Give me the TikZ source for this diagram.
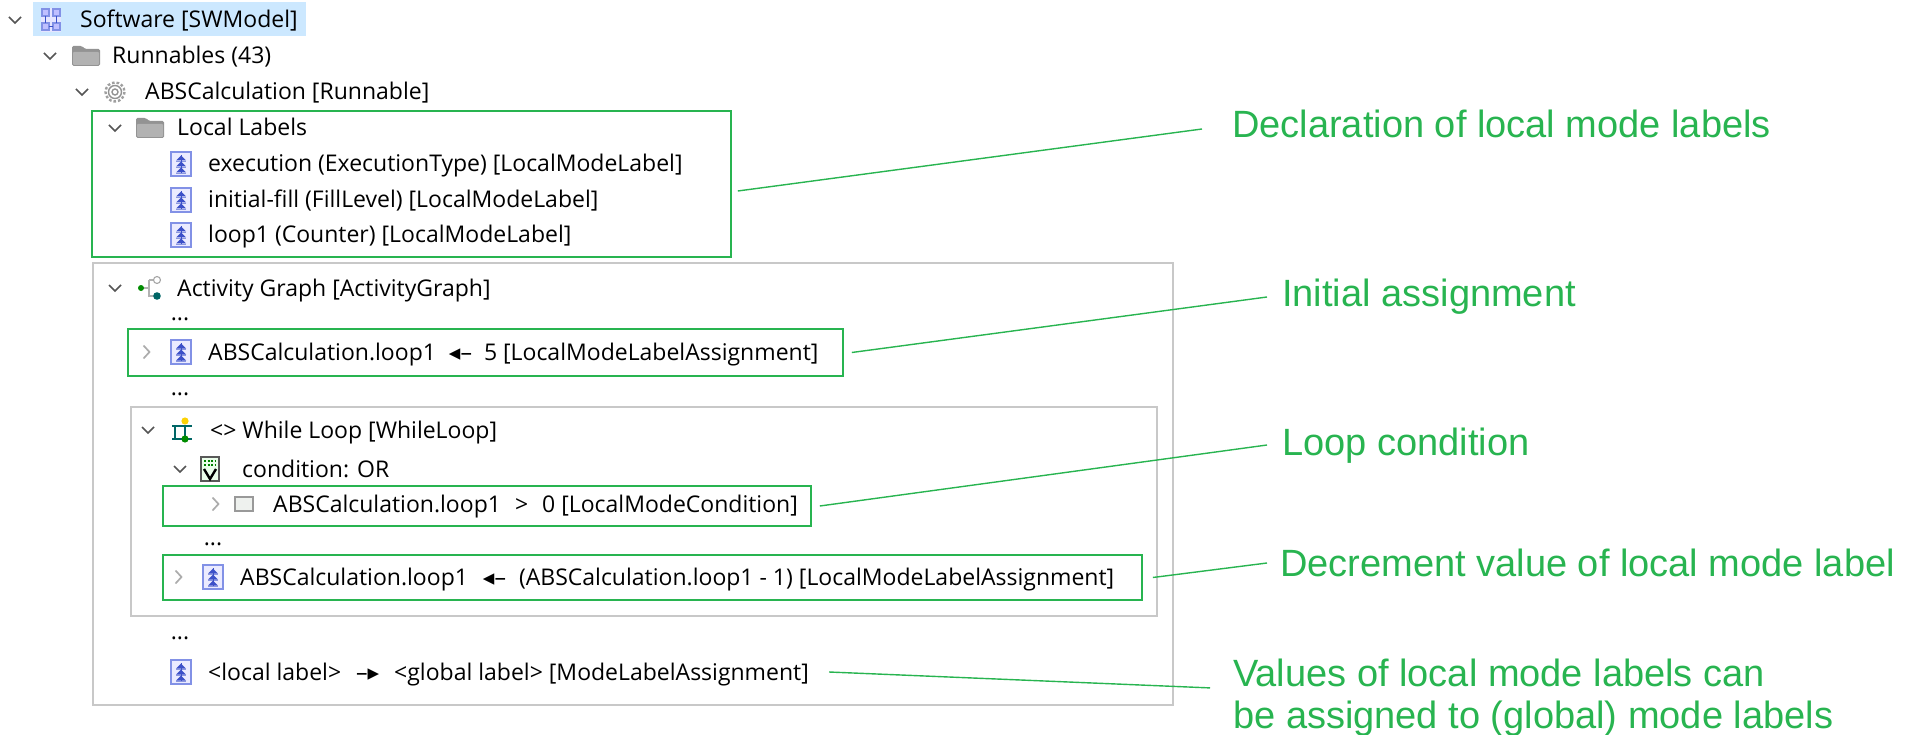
\documentclass[tikz,border=0pt]{standalone}
\usepackage{fontspec}
\setmainfont{Open Sans}
\newfontfamily\annofont{Liberation Sans}
\newfontfamily\symfont{DejaVu Sans}

\definecolor{annogreen}{RGB}{40,180,80}
\definecolor{framegray}{RGB}{200,200,200}
\definecolor{selblue}{RGB}{204,232,255}
\definecolor{chevgray}{RGB}{85,85,85}
\definecolor{iconblue}{RGB}{130,145,230}
\definecolor{arrowblue}{RGB}{60,80,200}

\tikzset{
  treetext/.style={anchor=west, inner sep=0pt, text height=16pt, text depth=0pt, font=\fontsize{23}{28}\selectfont},
  dots/.style={anchor=base, inner sep=0pt, font=\fontsize{23}{28}\selectfont},
  annotext/.style={anchor=west, inner sep=0pt, text height=27pt, text depth=0pt, text=annogreen, font=\annofont\fontsize{38}{42}\selectfont},
  greenbox/.style={draw=annogreen, line width=1.6pt, inner sep=0pt},
  graybox/.style={draw=framegray, line width=1.6pt},
  leader/.style={draw=annogreen, line width=1.4pt},
  chevdown/.pic={\draw[chevgray, line width=1.7pt] (-6,-3) -- (0,3) -- (6,-3);},
  chevright/.pic={\draw[gray!65, line width=1.7pt] (-2.5,-6.5) -- (3.5,0) -- (-2.5,6.5);},
  foldericon/.pic={
    \fill[gray!85, rounded corners=1.5pt] (-14,-10) -- (-4,-10) -- (-1,-7) -- (14,-7) -- (14,10) -- (-14,10) -- cycle;
    \fill[gray!60, rounded corners=1pt] (-13,-4) rectangle (13,9);},
  labelicon/.pic={
    \draw[iconblue, fill=blue!8, line width=1.4pt] (-10,-12) rectangle (10,12);
    \foreach \yy in {-6,0,6} {
      \fill[arrowblue] (-5,\yy+2.5) -- (0,\yy-2.5) -- (5,\yy+2.5) -- cycle;
      \draw[arrowblue!60, line width=0.8pt] (-5,\yy+3.5) -- (5,\yy+3.5);}
    \draw[arrowblue, line width=1pt] (0,-9) -- (0,9);},
  gearicon/.pic={
    \draw[gray!75, line width=2.4pt, dash pattern=on 2.6pt off 2pt] (0,0) circle (9.5);
    \draw[gray!85, line width=1.4pt] (0,0) circle (6.5) (0,0) circle (3);},
  swicon/.pic={
    \fill[blue!10] (-10,-12) rectangle (10,12);
    \draw[iconblue, line width=1.2pt, fill=blue!25] (-9,-11) rectangle (-2,-4) (2,-11) rectangle (9,-4) (-9,3) rectangle (-2,10) (2,3) rectangle (9,10);
    \draw[arrowblue, line width=1.1pt] (-5.5,-4) -- (-5.5,3) (5.5,-4) -- (5.5,3) (-2,6.5) -- (2,6.5);},
  agicon/.pic={
    \draw[gray!60, line width=1.2pt] (-8,0) -- (-1,0) (-1,-8) -- (-1,8) -- (5,8) (-1,-8) -- (4,-8);
    \fill[green!55!black] (-9,0) circle (3);
    \draw[gray!70, fill=white, line width=1.1pt] (7,-8) circle (3.5);
    \fill[teal!80!black] (7,8) circle (3.8);},
  wlicon/.pic={
    \draw[teal!80!black, line width=1.4pt] (-10,-4) -- (10,-4) (-7,-4) -- (-7,9) (3,-4) -- (3,9) (-10,9) -- (10,9);
    \fill[yellow!70!orange] (3,-9) circle (3.6);
    \fill[green!55!black] (3,9) circle (3.6);},
  condicon/.pic={
    \draw[gray!70!black, fill=green!8, line width=1.1pt] (-9,-12) rectangle (9,12);
    \draw[green!50!black, line width=1.1pt, dash pattern=on 2pt off 1.5pt] (-6,-8) -- (6,-8) (-6,-4) -- (6,-4);
    \draw[black, line width=2.4pt] (-6,0) -- (0,10) -- (6,0);},
  lmcicon/.pic={\draw[gray!80, fill=green!10!gray!12, line width=1.2pt] (-9,-7) rectangle (9,7);}
}

\begin{document}
\begin{tikzpicture}[x=1pt,y=-1pt]
  \useasboundingbox (0,0) rectangle (1913,735);
  % selection and frames
  \fill[selblue] (33,2) rectangle (306,36);
  \draw[graybox] (93,263) rectangle (1173,705);
  \draw[graybox] (131,407) rectangle (1157,616);

  % tree
  \pic at (15,20) {chevdown};  \pic at (51,20) {swicon};
  \node[treetext] (sw) at (80,20) {Software [SWModel]};
  \pic at (50,56) {chevdown};  \pic at (86,56) {foldericon};
  \node[treetext] (run) at (112,56) {Runnables (43)};
  \pic at (82,92) {chevdown};  \pic at (115,92) {gearicon};
  \node[treetext] (abs) at (145,92) {ABSCalculation [Runnable]};
  \pic at (115,128) {chevdown};  \pic at (150,128) {foldericon};
  \node[treetext] (loc) at (177,128) {Local Labels};
  \pic at (181,164) {labelicon};
  \node[treetext] (exe) at (208,164) {execution (ExecutionType) [LocalModeLabel]};
  \pic at (181,200) {labelicon};
  \node[treetext] (fill) at (208,200) {initial-fill (FillLevel) [LocalModeLabel]};
  \pic at (181,235) {labelicon};
  \node[treetext] (cnt) at (208,235) {loop1 (Counter) [LocalModeLabel]};

  \pic at (115,288) {chevdown};  \pic at (150,288) {agicon};
  \node[treetext] (ag) at (177,288) {Activity Graph [ActivityGraph]};
  \node[dots] (d1) at (180,320) {...};
  \pic at (146,352) {chevright};  \pic at (181,352) {labelicon};
  \node[treetext] (init) at (208,352) {ABSCalculation.loop1\hspace{13pt}{\symfont ◂}–\hspace{12pt}5 [LocalModeLabelAssignment]};
  \node[dots] (d2) at (180,395) {...};
  \pic at (148,430) {chevdown};  \pic at (182,430) {wlicon};
  \node[treetext] (wl) at (210,430) {<> While Loop [WhileLoop]};
  \pic at (180,469) {chevdown};  \pic at (210,469) {condicon};
  \node[treetext] (cond) at (242,469) {condition: OR};
  \pic at (215,504) {chevright};  \pic at (244,504) {lmcicon};
  \node[treetext] (lmc) at (273,504) {ABSCalculation.loop1\hspace{14pt}>\hspace{14pt}0 [LocalModeCondition]};
  \node[dots] (d3) at (213,545) {...};
  \pic at (178,577) {chevright};  \pic at (213,577) {labelicon};
  \node[treetext] (dec) at (240,577) {ABSCalculation.loop1\hspace{15pt}{\symfont ◂}–\hspace{13pt}(ABSCalculation.loop1 - 1) [LocalModeLabelAssignment]};
  \node[dots] (d4) at (180,639) {...};
  \pic at (181,672) {labelicon};
  \node[treetext] (glob) at (208,672) {<local label>\hspace{15pt}–{\symfont ▸}\hspace{15pt}<global label> [ModeLabelAssignment]};

  % highlighted groups
  \node[greenbox, minimum width=639pt, minimum height=146pt] (gb1) at (411.5,184) {};
  \node[greenbox, minimum width=715pt, minimum height=47pt] (gb2) at (485.5,352.5) {};
  \node[greenbox, minimum width=648pt, minimum height=40pt] (gb3) at (487,506) {};
  \node[greenbox, minimum width=979pt, minimum height=45pt] (gb4) at (652.5,577.5) {};

  % annotations
  \node[annotext] (a1) at (1232,124) {Declaration of local mode labels};
  \node[annotext] (a2) at (1282,293) {Initial assignment};
  \node[annotext] (a3) at (1282,442) {Loop condition};
  \node[annotext] (a4) at (1280,563) {Decrement value of local mode label};
  \node[anchor=north west, inner sep=0pt, align=left, text=annogreen, font=\annofont\fontsize{38}{42}\selectfont] (a5) at (1233,659) {Values of local mode labels can\\be assigned to (global) mode labels};

  \draw[leader] ([xshift=6pt,yshift=-7pt]gb1.east) -- ([xshift=-30pt,yshift=-5pt]a1.west);
  \draw[leader] ([xshift=8pt]gb2.east) -- ([xshift=-15pt,yshift=-4pt]a2.west);
  \draw[leader] ([xshift=8pt]gb3.east) -- ([xshift=-15pt,yshift=-3pt]a3.west);
  \draw[leader] ([xshift=10pt]gb4.east) -- ([xshift=-13pt]a4.west);
  \draw[leader] ([xshift=20pt]glob.east) -- ([xshift=-23pt,yshift=10pt]a5.west);
\end{tikzpicture}
\end{document}
